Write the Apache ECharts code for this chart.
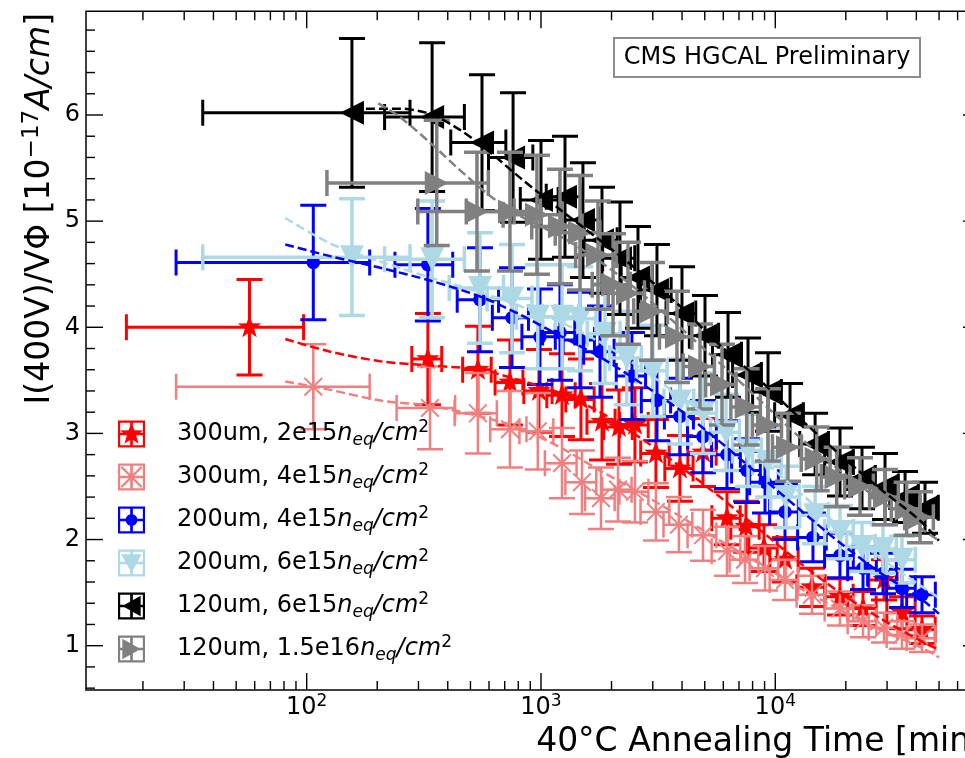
<!DOCTYPE html>
<html><head><meta charset="utf-8">
<script src="https://cdn.jsdelivr.net/npm/echarts@6/dist/echarts.min.js"></script>
<style>html,body{margin:0;padding:0;background:#fff}#c{width:965px;height:758px}</style>
</head><body><div id="c"></div>
<script>
const FONT = 'DejaVu Sans';

// ---------- data ----------
const legendNames = ['300um, 2e15', '300um, 4e15', '200um, 4e15', '200um, 6e15', '120um, 6e15', '120um, 1.5e16'];

const red_x    = [57, 329, 538, 737, 980, 1229, 1481, 1821, 2152, 2518, 3094, 3917, 4913, 6220, 7497, 8949, 11000, 14340, 18880, 23680, 29110, 34730, 42290];
const red_y    = [4.00, 3.70, 3.60, 3.48, 3.40, 3.36, 3.32, 3.11, 3.06, 3.08, 2.81, 2.67, 2.82, 2.20, 2.12, 1.92, 1.81, 1.55, 1.46, 1.35, 1.62, 1.31, 1.15];
const red_xerr = [40, 48, 75, 100, 135, 170, 205, 250, 300, 350, 430, 540, 680, 860, 1040, 1240, 1520, 1980, 2610, 3270, 4020, 4800, 5850];
const red_yerr = [0.45, 0.43, 0.41, 0.40, 0.39, 0.39, 0.38, 0.36, 0.35, 0.35, 0.32, 0.31, 0.32, 0.25, 0.24, 0.22, 0.21, 0.18, 0.17, 0.16, 0.19, 0.15, 0.13];

const pink_x    = [106.7, 336, 538, 737, 969, 1229, 1496, 1803, 2131, 2518, 3094, 3878, 4913, 6220, 7424, 9039, 11000, 14340, 18880, 23680, 29110, 34730, 42290];
const pink_y    = [3.44, 3.24, 3.19, 3.04, 3.02, 2.72, 2.54, 2.39, 2.47, 2.45, 2.26, 2.14, 2.04, 1.89, 1.81, 1.73, 1.62, 1.48, 1.35, 1.23, 1.17, 1.10, 1.07];
const pink_xerr = [79, 94, 110, 130, 160, 190, 225, 260, 305, 355, 435, 545, 690, 870, 1040, 1265, 1540, 2010, 2640, 3315, 4075, 4860, 5920];
const pink_yerr = [0.40, 0.39, 0.38, 0.36, 0.36, 0.33, 0.30, 0.29, 0.30, 0.29, 0.27, 0.26, 0.24, 0.23, 0.22, 0.21, 0.19, 0.18, 0.16, 0.15, 0.14, 0.13, 0.13];

const blue_x    = [106.7, 329, 549, 752, 990, 1205, 1467, 1786, 2445, 3127, 3917, 4913, 6220, 7572, 9039, 11000, 14480, 18880, 23680, 28820, 34730, 42290];
const blue_y    = [4.61, 4.59, 4.26, 4.09, 3.91, 3.95, 3.88, 3.77, 3.54, 3.31, 3.16, 2.97, 2.80, 2.65, 2.54, 2.26, 2.02, 1.85, 1.73, 1.68, 1.54, 1.48];
const blue_xerr = [79, 91, 110, 132, 161, 189, 224, 265, 350, 447, 555, 692, 874, 1063, 1268, 1542, 2028, 2644, 3316, 4036, 4863, 5921];
const blue_yerr = [0.54, 0.53, 0.49, 0.47, 0.45, 0.45, 0.45, 0.43, 0.41, 0.38, 0.36, 0.34, 0.32, 0.30, 0.29, 0.26, 0.23, 0.21, 0.20, 0.19, 0.18, 0.17];

const lblue_x    = [156, 343, 549, 752, 969, 1230, 1467, 1875, 2322, 3003, 3917, 4913, 6160, 7650, 9310, 11120, 14790, 18890, 23450, 28820, 34730];
const lblue_y    = [4.66, 4.64, 4.37, 4.27, 4.10, 4.10, 4.08, 3.94, 3.71, 3.59, 3.30, 3.19, 3.01, 2.84, 2.73, 2.40, 2.23, 2.07, 1.93, 1.91, 1.81];
const lblue_xerr = [120, 128, 143, 163, 185, 217, 249, 300, 359, 448, 570, 702, 876, 1077, 1309, 1561, 2074, 2647, 3285, 4036, 4864];
const lblue_yerr = [0.55, 0.55, 0.52, 0.51, 0.49, 0.49, 0.49, 0.47, 0.44, 0.43, 0.40, 0.38, 0.36, 0.34, 0.33, 0.29, 0.27, 0.25, 0.23, 0.23, 0.22];

const black_x    = [156, 343, 560, 760, 1000, 1266, 1510, 1821, 2173, 2594, 3126, 3997, 5012, 6285, 7650, 9310, 11560, 14790, 18890, 23450, 29400, 35800, 43550];
const black_y    = [6.02, 5.98, 5.74, 5.60, 5.20, 5.23, 5.01, 4.82, 4.65, 4.47, 4.35, 4.13, 3.92, 3.74, 3.55, 3.39, 3.17, 2.90, 2.73, 2.58, 2.50, 2.40, 2.30];
const black_xerr = [120, 128, 148, 163, 184, 213, 250, 292, 340, 395, 468, 580, 715, 890, 1077, 1309, 1623, 2074, 2647, 3285, 4117, 5013, 6098];
const black_yerr = [0.70, 0.70, 0.64, 0.61, 0.56, 0.57, 0.54, 0.50, 0.53, 0.48, 0.43, 0.44, 0.38, 0.40, 0.35, 0.37, 0.30, 0.29, 0.32, 0.29, 0.31, 0.24, 0.24];

const grey_x    = [359, 533, 737, 961, 1205, 1467, 1751, 2030, 2351, 2977, 3805, 4771, 5923, 7549, 9307, 11330, 15020, 18280, 22990, 29390, 36370, 41470];
const grey_y    = [5.36, 5.09, 5.09, 5.06, 4.95, 4.89, 4.68, 4.40, 4.32, 4.15, 3.91, 3.63, 3.46, 3.25, 3.08, 2.87, 2.76, 2.59, 2.50, 2.40, 2.29, 2.21];
const grey_xerr = [237, 235, 257, 272, 292, 317, 346, 376, 414, 490, 601, 727, 881, 1087, 1323, 1604, 2116, 2569, 3227, 4121, 5097, 5811];
const grey_yerr = [0.59, 0.56, 0.56, 0.56, 0.54, 0.54, 0.51, 0.48, 0.48, 0.46, 0.43, 0.40, 0.38, 0.36, 0.34, 0.32, 0.30, 0.28, 0.27, 0.26, 0.25, 0.24];

// fit curves (dashed)
const fit_x       = [81, 126, 206, 336, 549, 813, 1205, 1786, 2646, 3917, 5813, 8610, 12760, 18880, 27950, 41400, 49940];
const red_fit_y   = [3.89, 3.77, 3.68, 3.64, 3.60, 3.50, 3.38, 3.20, 2.96, 2.69, 2.40, 2.09, 1.78, 1.50, 1.26, 1.05, 0.96];
const pink_fit_y  = [3.49, 3.41, 3.31, 3.26, 3.16, 3.05, 2.87, 2.65, 2.44, 2.22, 1.99, 1.77, 1.54, 1.34, 1.15, 0.99, 0.89];
const blue_fit_y  = [4.78, 4.67, 4.56, 4.44, 4.29, 4.12, 3.92, 3.72, 3.48, 3.22, 2.92, 2.60, 2.28, 1.97, 1.69, 1.45, 1.30];
const lblue_fit_y = [5.03, 4.79, 4.62, 4.47, 4.33, 4.20, 4.05, 3.86, 3.62, 3.35, 3.07, 2.77, 2.44, 2.12, 1.83, 1.57, 1.45];
const black_fit_x = [179, 250, 336, 451, 605, 813, 1205, 1786, 2646, 3917, 5813, 8610, 12760, 18880, 27950, 41400, 49940];
const black_fit_y = [6.06, 6.06, 6.01, 5.86, 5.65, 5.41, 5.11, 4.82, 4.52, 4.20, 3.83, 3.50, 3.14, 2.80, 2.48, 2.18, 1.99];
const grey_fit_x  = [202, 250, 336, 451, 605, 813, 1205, 1786, 2646, 3917, 5813, 8610, 12760, 18880, 27950, 41400, 49940];
const grey_fit_y  = [6.11, 5.98, 5.74, 5.48, 5.24, 5.05, 4.86, 4.62, 4.33, 4.00, 3.66, 3.31, 2.96, 2.65, 2.37, 2.11, 1.99];

// axis ticks
const xMajorTicks = [100, 1000, 10000];
const xMinorTicks = [20,30,40,50,60,70,80,90,200,300,400,500,600,700,800,900,2000,3000,4000,5000,6000,7000,8000,9000,20000,30000,40000,50000,60000,70000];
const yMajorTicks = [1, 2, 3, 4, 5, 6];
const yMinorTicks = [0.6,0.8,1.2,1.4,1.6,1.8,2.2,2.4,2.6,2.8,3.2,3.4,3.6,3.8,4.2,4.4,4.6,4.8,5.2,5.4,5.6,5.8,6.2,6.4,6.6,6.8];

// ---------- styling ----------
const sets = [
  {name: legendNames[0], color: '#ff0000', kind: 'star',     lw: 3,   x: red_x,   y: red_y,   ex: red_xerr,   ey: red_yerr,   fx: fit_x,       fy: red_fit_y},
  {name: legendNames[1], color: '#f08080', kind: 'asterisk', lw: 2.5, x: pink_x,  y: pink_y,  ex: pink_xerr,  ey: pink_yerr,  fx: fit_x,       fy: pink_fit_y},
  {name: legendNames[2], color: '#0000ff', kind: 'circle',   lw: 3,   x: blue_x,  y: blue_y,  ex: blue_xerr,  ey: blue_yerr,  fx: fit_x,       fy: blue_fit_y},
  {name: legendNames[3], color: '#add8e6', kind: 'down',     lw: 3.5, x: lblue_x, y: lblue_y, ex: lblue_xerr, ey: lblue_yerr, fx: fit_x,       fy: lblue_fit_y},
  {name: legendNames[4], color: '#000000', kind: 'left',     lw: 3,   x: black_x, y: black_y, ex: black_xerr, ey: black_yerr, fx: black_fit_x, fy: black_fit_y},
  {name: legendNames[5], color: '#808080', kind: 'right',    lw: 3.5, x: grey_x,  y: grey_y,  ex: grey_xerr,  ey: grey_yerr,  fx: grey_fit_x,  fy: grey_fit_y}
];

const FRAME = 'M0,0L100,0L100,8L0,8Z M0,92L100,92L100,100L0,100Z M0,0L8,0L8,100L0,100Z M92,0L100,0L100,100L92,100Z M0,45L100,45L100,55L0,55Z M45,0L55,0L55,100L45,100Z ';
const ICON_MARK = {
  star: 'M50,6L60.6,36.1L92.8,36.6L67.2,56L76.4,86.4L50,68.3L23.6,86.4L32.8,56L7.2,36.6L39.4,36.1Z',
  asterisk: 'M9,15L15,9L91,85L85,91Z M85,9L91,15L15,91L9,85Z',
  circle: 'M28,50A22,22,0,1,1,72,50A22,22,0,1,1,28,50Z',
  down: 'M12,18L88,18L50,86Z',
  left: 'M84,12L84,88L16,50Z',
  right: 'M16,12L84,50L16,88Z'
};

const CAP = 13;
function barRender(color, lw) {
  return function (params, api) {
    const x = api.value(0), y = api.value(1), ex = api.value(2), ey = api.value(3);
    const c = api.coord([x, y]);
    const l = api.coord([x - ex, y]), r = api.coord([x + ex, y]);
    const b = api.coord([x, y - ey]), t = api.coord([x, y + ey]);
    const ln = (x1, y1, x2, y2) => ({type: 'line', shape: {x1, y1, x2, y2}, style: {stroke: color, lineWidth: lw}});
    return {type: 'group', children: [
      ln(l[0], c[1], r[0], c[1]),
      ln(c[0], b[1], c[0], t[1]),
      ln(l[0], c[1] - CAP, l[0], c[1] + CAP),
      ln(r[0], c[1] - CAP, r[0], c[1] + CAP),
      ln(c[0] - CAP, t[1], c[0] + CAP, t[1]),
      ln(c[0] - CAP, b[1], c[0] + CAP, b[1])
    ]};
  };
}
function markRender(kind, color) {
  return function (params, api) {
    const c = api.coord([api.value(0), api.value(1)]);
    const cx = c[0], cy = c[1];
    if (kind === 'star') {
      const pts = [];
      for (let k = 0; k < 10; k++) {
        const a = -Math.PI / 2 + k * Math.PI / 5, rr = k % 2 ? 4.9 : 12.3;
        pts.push([cx + rr * Math.cos(a), cy + rr * Math.sin(a)]);
      }
      return {type: 'polygon', shape: {points: pts}, style: {fill: color}};
    }
    if (kind === 'asterisk') {
      const ch = [];
      for (let k = 0; k < 4; k++) {
        const a = k * Math.PI / 4, rr = 12.5;
        ch.push({type: 'line', shape: {x1: cx - rr * Math.cos(a), y1: cy - rr * Math.sin(a), x2: cx + rr * Math.cos(a), y2: cy + rr * Math.sin(a)}, style: {stroke: color, lineWidth: 2}});
      }
      return {type: 'group', children: ch};
    }
    if (kind === 'circle') return {type: 'circle', shape: {cx, cy, r: 6.8}, style: {fill: color}};
    const h = 12;
    let pts;
    if (kind === 'down') pts = [[cx - h, cy - h], [cx + h, cy - h], [cx, cy + h]];
    else if (kind === 'left') pts = [[cx - h, cy], [cx + h, cy - h], [cx + h, cy + h]];
    else pts = [[cx + h, cy], [cx - h, cy - h], [cx - h, cy + h]];
    return {type: 'polygon', shape: {points: pts}, style: {fill: color}};
  };
}
function tickRender(params, api) {
  const cs = params.coordSys;
  const axis = api.value(2), major = api.value(3);
  const len = major ? 17 : 9;
  const st = () => ({stroke: '#000', lineWidth: 1.4});
  if (axis === 0) {
    const p = api.coord([api.value(0), 3])[0];
    const yb = cs.y + cs.height, yt = cs.y;
    return {type: 'group', children: [
      {type: 'line', shape: {x1: p, y1: yb, x2: p, y2: yb - len}, style: st()},
      {type: 'line', shape: {x1: p, y1: yt, x2: p, y2: yt + len}, style: st()}
    ]};
  }
  const q = api.coord([1000, api.value(1)])[1];
  const xl = cs.x, xr = cs.x + cs.width;
  return {type: 'group', children: [
    {type: 'line', shape: {x1: xl, y1: q, x2: xl + len, y2: q}, style: st()},
    {type: 'line', shape: {x1: xr, y1: q, x2: xr - len, y2: q}, style: st()}
  ]};
}

const tickData = [].concat(
  xMajorTicks.map(v => [v, 3, 0, 1]), xMinorTicks.map(v => [v, 3, 0, 0]),
  yMajorTicks.map(v => [1000, v, 1, 1]), yMinorTicks.map(v => [1000, v, 1, 0])
);

const series = [];
sets.forEach(s => {
  const d = s.x.map((xv, i) => [xv, s.y[i], s.ex[i], s.ey[i]]);
  series.push({type: 'custom', name: s.name, coordinateSystem: 'cartesian2d', data: d, encode: {x: 0, y: 1},
    itemStyle: {color: s.color}, renderItem: barRender(s.color, s.lw), silent: true, clip: true});
  series.push({type: 'custom', name: s.name, coordinateSystem: 'cartesian2d', data: d, encode: {x: 0, y: 1},
    itemStyle: {color: s.color}, renderItem: markRender(s.kind, s.color), silent: true, clip: true});
  series.push({type: 'line', name: s.name + ' fit', data: s.fx.map((xv, i) => [xv, s.fy[i]]), showSymbol: false,
    smooth: 0.3, silent: true, lineStyle: {color: s.color, width: 2.5, type: [9, 4]}});
});
series.push({type: 'custom', name: 'ticks', coordinateSystem: 'cartesian2d', data: tickData, encode: {x: 0, y: 1},
  renderItem: tickRender, silent: true, clip: false, z: 10});

const chart = echarts.init(document.getElementById('c'), null, {renderer: 'canvas'});
chart.setOption({
  animation: false,
  backgroundColor: '#ffffff',
  textStyle: {fontFamily: FONT},
  grid: {left: 86, top: 11.3, right: -15, bottom: 68, show: true, borderColor: '#000', borderWidth: 1.5,
    backgroundColor: 'transparent', containLabel: false, outerBoundsMode: 'none'},
  xAxis: {type: 'log', logBase: 10, min: 11.43, max: 74770,
    axisLine: {show: false}, axisTick: {show: false}, splitLine: {show: false}, minorTick: {show: false},
    axisLabel: {showMinLabel: false, showMaxLabel: false, margin: 3, color: '#000',
      formatter: v => { const e = Math.log10(v); return Math.abs(e - Math.round(e)) < 1e-6 ? '{b|10}{s|' + Math.round(e) + '}' : ''; },
      rich: {b: {fontSize: 24, fontFamily: FONT, color: '#000', lineHeight: 30},
             s: {fontSize: 17, fontFamily: FONT, color: '#000', verticalAlign: 'top', lineHeight: 14}}}},
  yAxis: {type: 'value', min: 0.5825, max: 6.977,
    axisLine: {show: false}, axisTick: {show: false}, splitLine: {show: false},
    axisLabel: {showMinLabel: false, showMaxLabel: false, margin: 6, fontSize: 24, fontFamily: FONT, color: '#000',
      formatter: v => Math.abs(v - Math.round(v)) < 1e-6 ? String(Math.round(v)) : ''}},
  legend: {orient: 'vertical', left: 118, top: 419, itemWidth: 27, itemHeight: 27, itemGap: 13, padding: 0,
    selectedMode: false,
    data: sets.map(s => ({name: s.name, icon: 'path://' + FRAME + ICON_MARK[s.kind]})),
    formatter: name => '{t|' + name + '}{i|n}{sub|eq}{i|/cm}{sup|2}',
    textStyle: {fontFamily: FONT, fontSize: 24, color: '#000', padding: [0, 0, 0, 27],
      rich: {t: {fontSize: 24, fontFamily: FONT, color: '#000', lineHeight: 30},
             i: {fontSize: 24, fontFamily: FONT, fontStyle: 'italic', color: '#000', lineHeight: 30},
             sub: {fontSize: 17, fontFamily: FONT, fontStyle: 'italic', color: '#000', verticalAlign: 'bottom', lineHeight: 14},
             sup: {fontSize: 17, fontFamily: FONT, color: '#000', verticalAlign: 'top', lineHeight: 14}}}},
  graphic: [
    {type: 'rect', shape: {x: 614, y: 38, width: 306, height: 39}, style: {fill: '#fff', stroke: '#8c8c8c', lineWidth: 2}, z: 20},
    {type: 'text', x: 767, y: 57.5, z: 21, style: {text: 'CMS HGCAL Preliminary', font: '24px "DejaVu Sans"', fill: '#000', align: 'center', verticalAlign: 'middle'}},
    {type: 'text', x: 983, y: 742, z: 21, style: {text: '40°C Annealing Time [min]', font: '33px "DejaVu Sans"', fill: '#000', align: 'right', verticalAlign: 'middle'}},
    {type: 'text', x: 40, y: 13, rotation: Math.PI / 2, z: 21, style: {
      text: '{a|I(400V)/VΦ [10}{s|−17}{i|A/cm}{a|]}', align: 'right', verticalAlign: 'middle', fill: '#000',
      rich: {a: {fontSize: 33, fontFamily: FONT, fill: '#000', lineHeight: 39},
             i: {fontSize: 33, fontFamily: FONT, fontStyle: 'italic', fill: '#000', lineHeight: 39},
             s: {fontSize: 23, fontFamily: FONT, fill: '#000', verticalAlign: 'top', lineHeight: 19}}}}
  ],
  series: series
});
</script></body></html>
